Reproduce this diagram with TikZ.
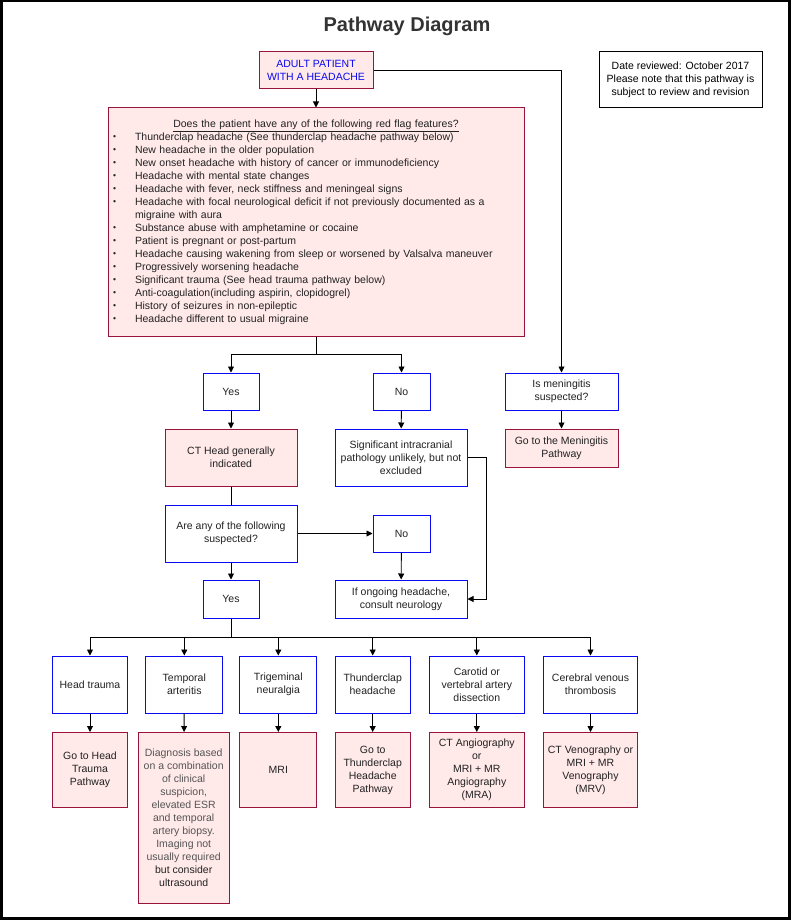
\documentclass[tikz,border=0pt]{standalone}
\usepackage{fontspec}
\setmainfont{Liberation Sans}
\usepackage{tikz}
\usetikzlibrary{arrows.meta}
\definecolor{pinkfill}{HTML}{FFE9E9}
\definecolor{pinkline}{HTML}{99143A}
\definecolor{boxblue}{HTML}{0A0AF0}
\definecolor{txt}{HTML}{222222}
\definecolor{txtgray}{HTML}{555555}
\definecolor{titlecol}{HTML}{333333}
\newcommand\flagitem[1]{\makebox[22pt][l]{\raisebox{0.5pt}{\fontsize{8.5}{8.5}\selectfont\textbullet}}#1}
\newcommand\fadetxt[1]{\textcolor{txtgray}{#1}}

\begin{document}
\begin{tikzpicture}[x=1pt,y=-1pt,
          font=\fontsize{10.5}{13}\selectfont, text=txt,
          pinkbx/.style={draw=pinkline,fill=pinkfill,line width=1pt,align=center,inner sep=2pt},
          bluebx/.style={draw=boxblue,fill=white,line width=1pt,align=center,inner sep=2pt},
          arr/.style={-{Triangle[length=6pt,width=6pt]},line width=0.9pt}
        ]
        \useasboundingbox (0,0) rectangle (792,920);
        \draw[line width=2.5pt] (1.25,1.25) rectangle (789.5,918.5);
        \node[font=\fontsize{20}{24}\selectfont\bfseries,text=titlecol] (title) at (407,26) {Pathway Diagram};
        % top of the pathway
        \node[pinkbx,minimum width=114pt,minimum height=37pt,text=boxblue] (adult) at (316,70.5) {ADULT PATIENT\\WITH A HEADACHE};
        \node[draw=black,line width=1pt,minimum width=163pt,minimum height=56pt,align=center,text=black] (note) at (680.5,80) {Date reviewed: October 2017\\Please note that this pathway is\\subject to review and revision};
        \node[pinkbx,minimum width=416pt,minimum height=228pt,text width=406pt,align=left,inner sep=5pt] (flags) at (316,222) {%
          \makebox[406pt][c]{\underline{Does the patient have any of the following red flag features?}}\\
          \flagitem{Thunderclap headache (See thunderclap headache pathway below)}\\
          \flagitem{New headache in the older population}\\
          \flagitem{New onset headache with history of cancer or immunodeficiency}\\
          \flagitem{Headache with mental state changes}\\
          \flagitem{Headache with fever, neck stiffness and meningeal signs}\\
          \flagitem{Headache with focal neurological deficit if not previously documented as a}\\
          \hspace*{22pt}migraine with aura\\
          \flagitem{Substance abuse with amphetamine or cocaine}\\
          \flagitem{Patient is pregnant or post-partum}\\
          \flagitem{Headache causing wakening from sleep or worsened by Valsalva maneuver}\\
          \flagitem{Progressively worsening headache}\\
          \flagitem{Significant trauma (See head trauma pathway below)}\\
          \flagitem{Anti-coagulation(including aspirin, clopidogrel)}\\
          \flagitem{History of seizures in non-epileptic}\\
          \flagitem{Headache different to usual migraine}};
        % first answer
        \node[bluebx,minimum width=56pt,minimum height=37pt] (yes1) at (231,391.5) {Yes};
        \node[bluebx,minimum width=57pt,minimum height=37pt] (no1) at (401.5,391.5) {No};
        \node[bluebx,minimum width=113pt,minimum height=37pt] (mening) at (561.5,391.5) {Is meningitis\\suspected?};
        \node[pinkbx,minimum width=113pt,minimum height=38pt] (gomening) at (561.5,448) {Go to the Meningitis\\Pathway};
        \node[pinkbx,minimum width=132pt,minimum height=57pt] (cthead) at (231,457.5) {CT Head generally\\indicated};
        \node[bluebx,minimum width=132pt,minimum height=57pt] (signif) at (401,457.5) {Significant intracranial\\pathology unlikely, but not\\excluded};
        \node[bluebx,minimum width=132pt,minimum height=57pt] (areany) at (231,533.5) {Are any of the following\\suspected?};
        \node[bluebx,minimum width=57pt,minimum height=37pt] (no2) at (401.5,533.5) {No};
        \node[bluebx,minimum width=56pt,minimum height=38pt] (yes2) at (231,599) {Yes};
        \node[bluebx,minimum width=132pt,minimum height=38pt] (consult) at (401,599) {If ongoing headache,\\consult neurology};
        \draw[arr] (adult) -- (flags);
        \draw[arr] (adult.east) -| (mening.north);
        \draw (flags.south) -- ++(0,18) coordinate (split1);
        \draw[arr] (split1) -| (yes1.north);
        \draw[arr] (split1) -| (no1.north);
        \draw[arr] (yes1) -- (cthead);
        \draw[arr] (no1) -- (signif);
        \draw[arr] (mening) -- (gomening);
        \draw[arr] (signif.east) -- ++(19,0) |- (consult.east);
        \draw[line width=0.9pt] (cthead) -- (areany);
        \draw[arr] (areany) -- (no2);
        \draw[arr] (areany) -- (yes2);
        \draw[arr] (no2) -- (consult);
        \draw[line width=0.9pt] (yes2.south) -- ++(0,19) coordinate (split2);
        % suspected conditions and what to do
        \foreach \i/\x/\w/\txt in {1/90/75/{Head trauma}, 2/184.3/76.7/{Temporal\\arteritis},
            3/278.3/76.7/{Trigeminal\\neuralgia}, 4/372.7/75/{Thunderclap\\headache},
            5/476.8/95/{Carotid or\\vertebral artery\\dissection}, 6/590.5/94/{Cerebral venous\\thrombosis}}{
          \node[bluebx,minimum width=\w pt,minimum height=57pt] (cond\i) at (\x,684.5) {\txt};
          \draw[arr,line width=0.9pt] (split2) -| (cond\i.north);
        }
        \foreach \i/\x/\y/\w/\h/\txt in {1/90/769.5/75/75/{Go to Head\\Trauma\\Pathway},
            2/183.7/817.3/91/170.6/{\fadetxt{Diagnosis based}\\\fadetxt{on a combination}\\\fadetxt{of clinical}\\\fadetxt{suspicion,}\\\fadetxt{elevated ESR}\\\fadetxt{and temporal}\\\fadetxt{artery biopsy.}\\\fadetxt{Imaging not}\\\fadetxt{usually required}\\but consider\\ultrasound},
            3/278.3/769.5/76.7/75/{MRI}, 4/372.7/769.5/75/75/{Go to\\Thunderclap\\Headache\\Pathway},
            5/476.8/769.5/95/75/{CT Angiography\\or\\MRI + MR\\Angiography\\(MRA)},
            6/590.5/769.5/94/75/{CT Venography or\\MRI + MR\\Venography\\(MRV)}}{
          \node[pinkbx,minimum width=\w pt,minimum height=\h pt,anchor=north] (res\i) at (\x,732) {\txt};
          \draw[arr] (cond\i) -- (res\i);
        }
      \end{tikzpicture}
\end{document}
